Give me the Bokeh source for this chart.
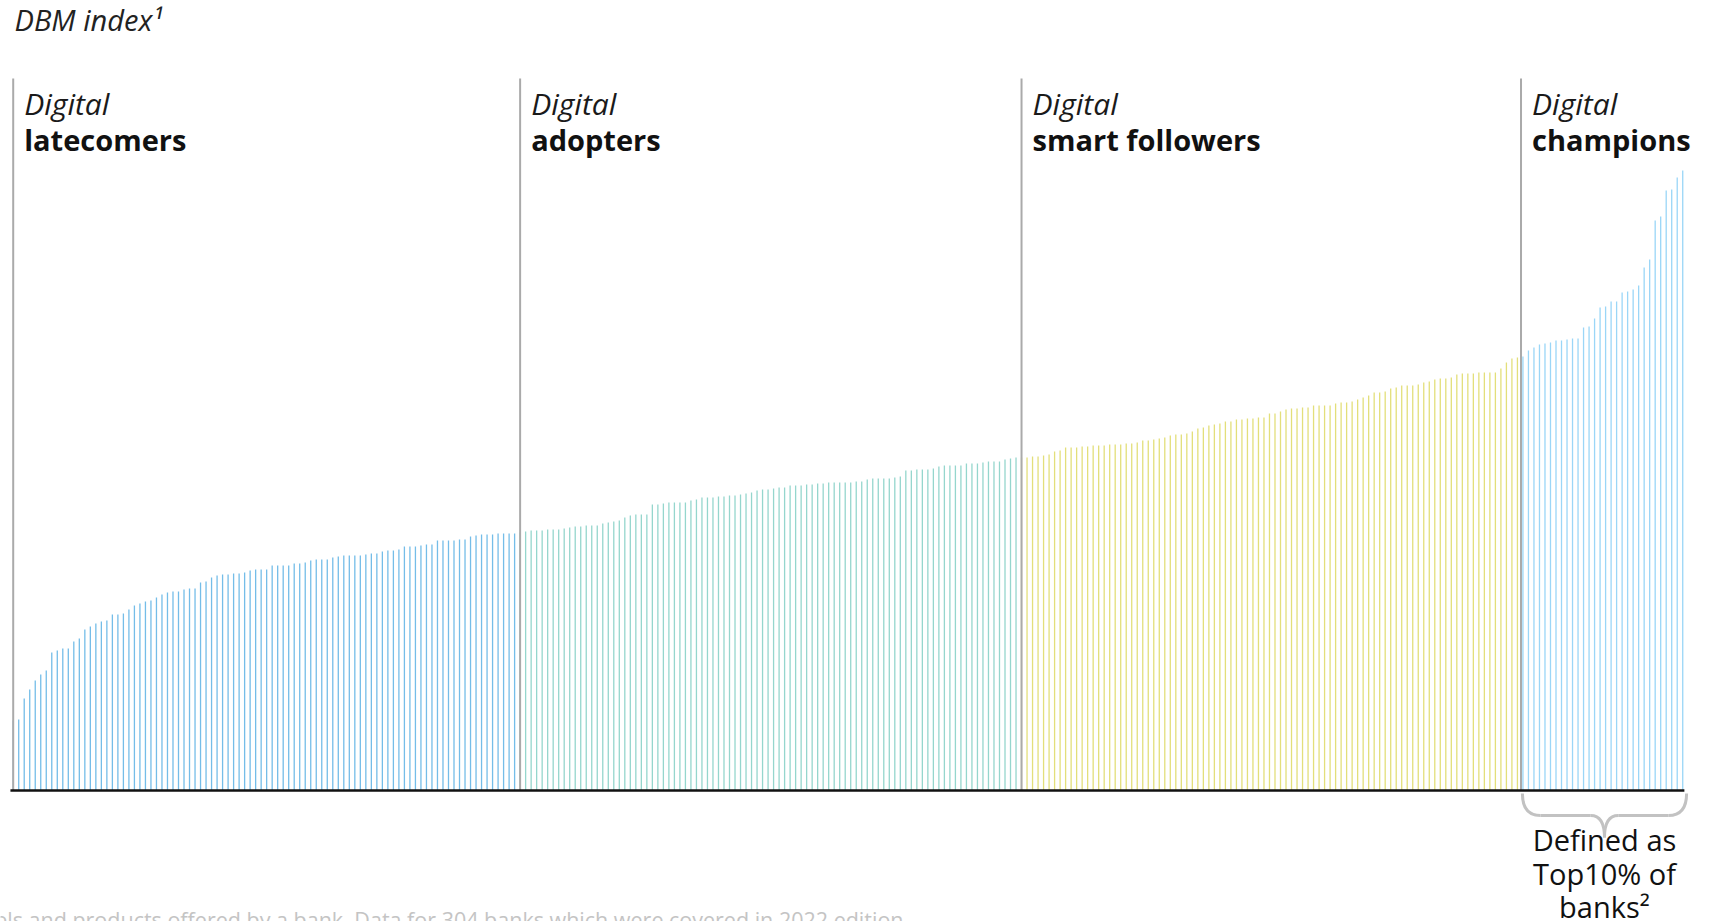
from bokeh.plotting import figure
from bokeh.models import Range1d, Label, ColumnDataSource
from bokeh.embed import file_html
from bokeh.resources import INLINE

# ---------------- data (DBM index, sorted ascending, 304 banks) ----------------
segment_names = ["latecomers", "adopters", "smart followers", "champions"]
segment_colors = ["#74bde8", "#95d6cd", "#e3df7a", "#9ad6f7"]

latecomers = [70, 71, 92, 101, 110, 116, 120, 138, 140, 142,
              142, 149, 152, 161, 164, 167, 169, 170, 176, 176,
              177, 181, 185, 187, 189, 190, 193, 196, 198, 199,
              199, 201, 202, 202, 208, 209, 213, 215, 216, 216,
              217, 217, 218, 220, 221, 221, 221, 225, 225, 225,
              225, 227, 227, 228, 230, 231, 231, 231, 233, 234,
              235, 235, 235, 235, 236, 237, 237, 239, 240, 240,
              241, 244, 244, 244, 245, 246, 246, 250, 250, 250,
              250, 251, 251, 254, 255, 256, 256, 256, 257, 257,
              257, 257]
adopters = [258, 259, 260, 260, 260, 261, 261, 261, 262, 263,
            264, 264, 265, 265, 265, 267, 268, 269, 270, 273,
            275, 276, 276, 276, 286, 286, 287, 288, 288, 288,
            288, 290, 291, 293, 293, 293, 294, 294, 295, 295,
            296, 297, 298, 300, 301, 301, 302, 303, 303, 305,
            305, 305, 306, 306, 307, 307, 308, 308, 308, 308,
            308, 309, 309, 311, 312, 312, 312, 312, 313, 314,
            320, 320, 321, 321, 321, 322, 324, 325, 325, 325,
            325, 327, 327, 327, 328, 329, 329, 329, 331, 332,
            333]
smart_followers = [333, 333, 334, 334, 335, 336, 339, 340, 343, 343,
                   343, 344, 344, 345, 345, 345, 346, 346, 346, 347,
                   347, 348, 350, 350, 351, 352, 353, 355, 356, 356,
                   357, 359, 362, 363, 365, 366, 367, 369, 369, 371,
                   371, 372, 372, 373, 373, 377, 377, 379, 381, 382,
                   382, 383, 383, 385, 385, 385, 385, 387, 388, 388,
                   389, 391, 393, 395, 398, 398, 399, 402, 403, 405,
                   405, 405, 406, 408, 409, 411, 412, 412, 413, 416,
                   417, 417, 417, 418, 418, 418, 418, 422, 428, 432,
                   433]
champions = [434, 440, 443, 446, 447, 448, 450, 450, 451, 452,
             452, 463, 464, 472, 483, 484, 489, 489, 498, 499,
             501, 505, 523, 531, 570, 574, 600, 601, 613, 620]

segments = [latecomers, adopters, smart_followers, champions]

title_text = "DBM index\u00b9"
note_lines = ["Defined as", "Top10% of", "banks\u00b2"]
footnote = ("1 DBM index measures the number of functionalities across digital channels "
            "and products offered by a bank. Data for 304 banks which were covered in 2022 edition")

# ---------------- figure ----------------
W, H = 1716, 921
n_total = sum(len(s) for s in segments)
px_per_bar = 5.51
x_start = -12.7 / px_per_bar
p = figure(width=W, height=H, output_backend="svg", toolbar_location=None,
           x_axis_type=None, y_axis_type=None, min_border=0,
           x_range=Range1d(x_start, x_start + W / px_per_bar),
           y_range=Range1d(-131, 790))
p.outline_line_color = None
p.background_fill_color = "white"
p.border_fill_color = "white"
p.grid.visible = False

FONT = "Open Sans"

# bars
start = 0
starts = []
for vals, col, name in zip(segments, segment_colors, segment_names):
    idx = list(range(start, start + len(vals)))
    src = ColumnDataSource(dict(x=idx, y0=[0] * len(vals), y1=vals))
    p.segment(x0="x", y0="y0", x1="x", y1="y1", source=src,
              line_color=col, line_width=1.3)
    starts.append(start)
    start += len(vals)

# dividers
div_top = 712
div_x = [s - (0.35 if i == 3 else 0) for i, s in enumerate(starts)]
p.segment(x0=div_x, y0=[0] * len(starts), x1=div_x, y1=[div_top] * len(starts),
          line_color="#aaaaaa", line_width=2)

# baseline
p.segment(x0=[-0.5], y0=[0], x1=[n_total - 0.7], y1=[0], line_color="#111111", line_width=2.5)

# segment labels
for s, name in zip(div_x, segment_names):
    p.add_layout(Label(x=s + 2.0, y=687, text="Digital", text_font=FONT,
                       text_font_style="italic", text_font_size="30px",
                       text_color="#1a1a1a", text_baseline="alphabetic"))
    p.add_layout(Label(x=s + 2.0, y=651, text=name, text_font=FONT,
                       text_font_style="bold", text_font_size="29px",
                       text_color="#111111", text_baseline="alphabetic"))

# title
p.add_layout(Label(x=0.25, y=771, text=title_text, text_font=FONT,
                   text_font_style="italic", text_font_size="29px",
                   text_color="#222222", text_baseline="alphabetic"))

# brace under champions
c0 = starts[3] - 0.1
c1 = n_total - 1 + 0.7
cm = (c0 + c1) / 2
yt, yh, yp = -3, -25, -47
p.bezier(x0=[c0, cm - 2.5, cm, c1],
         y0=[yt, yh, yp, yt],
         x1=[c0 + 3.3, cm, cm + 2.5, c1 - 3.3],
         y1=[yh, yp, yh, yh],
         cx0=[c0, cm - 0.9, cm, c1],
         cy0=[yh + 9, yh, yp + 15, yh + 9],
         cx1=[c0 + 0.9, cm, cm + 0.9, c1 - 0.9],
         cy1=[yh, yp + 15, yh, yh],
         line_color="#c2c2c2", line_width=3)
p.segment(x0=[c0 + 3.3, cm + 2.5], y0=[yh, yh], x1=[cm - 2.5, c1 - 3.3], y1=[yh, yh],
          line_color="#c2c2c2", line_width=3)

for i, t in enumerate(note_lines):
    p.add_layout(Label(x=cm, y=-49 - 33.5 * i, text=t, text_font=FONT,
                       text_font_size="29px", text_color="#111111",
                       text_align="center", text_baseline="alphabetic"))

# footnote (partially outside the window)
p.add_layout(Label(x=(903 - 12.7) / px_per_bar, y=-129, text=footnote, text_font=FONT,
                   text_font_size="21.5px", text_color="#c4c4c4",
                   text_align="right", text_baseline="alphabetic"))

open("out.html", "w").write(file_html(p, INLINE))
